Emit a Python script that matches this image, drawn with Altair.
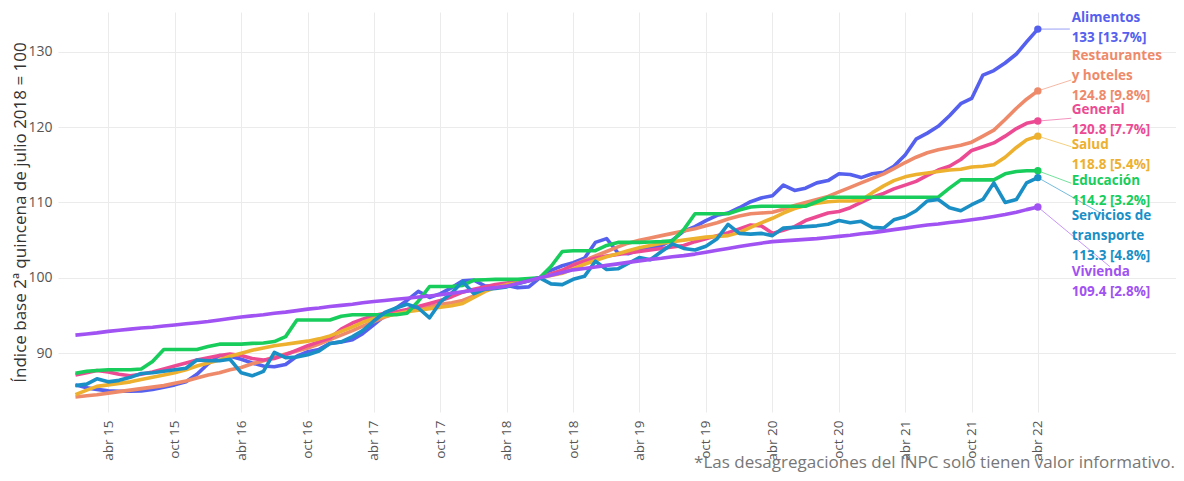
import altair as alt
import pandas as pd

# ---------------- data (monthly, Jan 2015 - Apr 2022) ----------------
alimentos = [85.8, 85.4, 85.2, 85.0, 84.95, 84.95, 85.0, 85.2, 85.5, 85.8, 86.2, 87.2, 88.6, 89.7, 89.6, 89.2, 88.7, 88.3, 88.2, 88.5, 89.6, 90.2, 90.5,
             91.3, 91.5, 91.8, 92.6, 93.8, 95.0, 96.0, 97.0, 98.2, 97.4, 97.9, 98.7, 99.6, 99.7, 98.9, 98.9, 99.0, 98.7, 98.8, 100.0, 101.0, 101.6,
             102.0, 102.6, 104.7, 105.2, 103.3, 103.2, 103.7, 104.0, 104.3, 105.0, 106.2, 106.8, 107.6, 108.3, 108.6, 109.3, 110.1, 110.6,
             110.9, 112.3, 111.6, 111.9, 112.6, 112.9, 113.8, 113.7, 113.3, 113.8, 114.0, 114.8, 116.3, 118.4, 119.2, 120.1, 121.5, 123.1, 123.8,
             126.9, 127.5, 128.5, 129.7, 131.3, 133.0]
restaurantes = [84.2, 84.35, 84.5, 84.7, 84.9, 85.1, 85.3, 85.5, 85.7, 86.0, 86.3, 86.7, 87.1, 87.4, 87.8, 88.1, 88.6, 89.0, 89.5, 89.9,
                90.3, 90.7, 91.2, 91.8, 92.4, 93.0, 93.6, 94.2, 94.8, 95.3, 95.7, 95.9, 96.2, 96.5, 96.7, 97.0, 97.6, 98.3, 98.8, 99.1,
                99.4, 99.7, 100.0, 100.5, 101.0, 101.7, 102.3, 102.9, 103.5, 104.1, 104.6, 105.0, 105.3, 105.6, 105.9, 106.2, 106.5, 106.9,
                107.3, 107.8, 108.2, 108.5, 108.6, 108.7, 109.1, 109.6, 110.0, 110.4, 110.8, 111.4, 112.0, 112.6, 113.2, 113.8, 114.5,
                115.3, 116.0, 116.6, 117.0, 117.3, 117.6, 118.0, 118.8, 119.6, 121.0, 122.5, 123.7, 124.8]
general = [87.1, 87.4, 87.7, 87.5, 87.2, 87.0, 87.2, 87.5, 87.9, 88.3, 88.7, 89.1, 89.4, 89.7, 89.9, 89.7, 89.3, 89.1, 89.3, 89.8, 90.4, 91.0, 91.5,
           92.0, 93.2, 94.0, 94.5, 95.0, 95.3, 95.5, 95.8, 96.2, 96.6, 97.0, 97.5, 98.1, 98.5, 98.8, 99.1, 99.3, 99.5, 99.7, 100.0, 100.5, 101.0,
           101.7, 102.2, 102.6, 102.9, 103.1, 103.3, 103.5, 103.7, 103.9, 104.1, 104.3, 104.8, 105.2, 105.6, 106.0, 106.5, 107.0, 106.9,
           105.9, 106.3, 106.8, 107.6, 108.1, 108.6, 108.8, 109.3, 110.0, 110.7, 111.2, 111.8, 112.3, 112.8, 113.6, 114.3, 114.8, 115.7,
           116.9, 117.4, 117.9, 118.8, 119.8, 120.5, 120.8]
salud = [84.5, 85.1, 85.6, 85.8, 86.0, 86.2, 86.5, 86.8, 87.1, 87.4, 87.8, 88.3, 88.7, 89.1, 89.6, 90.0, 90.4, 90.7, 91.0, 91.2, 91.4, 91.6, 91.9,
         92.3, 92.9, 93.5, 94.1, 94.6, 94.9, 95.2, 95.5, 95.7, 95.9, 96.1, 96.3, 96.6, 97.4, 98.2, 98.7, 99.1, 99.3, 99.6, 100.0, 100.3, 100.6,
         101.2, 101.8, 102.3, 102.8, 103.2, 103.6, 104.0, 104.3, 104.6, 104.8, 105.0, 105.2, 105.4, 105.5, 105.6, 106.0, 106.7, 107.3,
         107.9, 108.6, 109.2, 109.6, 109.9, 110.1, 110.2, 110.2, 110.3, 111.3, 112.2, 112.9, 113.4, 113.7, 113.9, 114.1, 114.3, 114.4,
         114.7, 114.8, 115.0, 116.0, 117.3, 118.3, 118.8]
educacion = [87.35, 87.6, 87.7, 87.8, 87.8, 87.8, 87.9, 88.9, 90.5, 90.5, 90.5, 90.5, 90.9, 91.2, 91.2, 91.2, 91.3, 91.35, 91.55, 92.2, 94.4, 94.4, 94.4,
             94.4, 94.9, 95.1, 95.1, 95.1, 95.1, 95.1, 95.3, 96.9, 98.85, 98.85, 98.85, 99.0, 99.7, 99.75, 99.8, 99.8, 99.8, 99.9, 100.0, 101.5, 103.5,
             103.6, 103.6, 103.6, 104.3, 104.7, 104.7, 104.7, 104.75, 104.8, 104.9, 106.4, 108.5, 108.5, 108.5, 108.5, 109.0, 109.4, 109.5, 109.5, 109.5,
             109.5, 109.5, 110.1, 110.7, 110.7, 110.7, 110.7, 110.7, 110.7, 110.7, 110.7, 110.7, 110.7, 110.7, 111.9, 113.0, 113.0, 113.0, 113.0, 113.8,
             114.1, 114.2, 114.2]
transporte = [85.7, 85.9, 86.6, 86.2, 86.4, 86.8, 87.3, 87.4, 87.6, 87.8, 88.0, 89.1, 89.0, 89.0, 89.2, 87.4, 87.0, 87.6, 90.1, 89.4, 89.5, 89.8, 90.3,
              91.3, 91.5, 92.2, 93.0, 94.3, 95.4, 96.0, 96.5, 96.0, 94.7, 96.8, 98.0, 99.5, 97.9, 98.5, 98.6, 98.8, 99.2, 99.6, 100.0, 99.2, 99.1,
              99.8, 100.2, 102.2, 101.1, 101.2, 101.9, 102.7, 102.4, 103.5, 104.5, 103.9, 103.7, 104.2, 105.2, 107.1, 105.9, 105.8, 105.9, 105.6, 106.6,
              106.7, 106.8, 106.9, 107.1, 107.6, 107.3, 107.5, 106.7, 106.6, 107.7, 108.1, 108.9, 110.2, 110.4, 109.3, 108.9, 109.7, 110.4, 112.6, 110.0,
              110.4, 112.6, 113.3]
vivienda = [92.4, 92.55, 92.7, 92.9, 93.05, 93.2, 93.35, 93.45, 93.6, 93.75, 93.9, 94.05, 94.2, 94.4, 94.6, 94.8, 94.95, 95.1, 95.3, 95.45,
            95.65, 95.85, 96.0, 96.2, 96.35, 96.5, 96.7, 96.85, 97.0, 97.15, 97.3, 97.45, 97.6, 97.75, 97.95, 98.15, 98.35, 98.55, 98.7, 98.9,
            99.25, 99.6, 100.0, 100.35, 100.7, 101.06, 101.25, 101.45, 101.65, 101.85, 102.05, 102.25, 102.45, 102.6, 102.8, 102.95, 103.15, 103.4,
            103.65, 103.9, 104.15, 104.4, 104.6, 104.8, 104.9, 105.0, 105.1, 105.2, 105.35, 105.5, 105.65, 105.85, 106.0, 106.2, 106.4, 106.6,
            106.8, 107.0, 107.15, 107.35, 107.5, 107.7, 107.9, 108.15, 108.4, 108.7, 109.05, 109.4]

series_names = ["Alimentos", "Restaurantes y hoteles", "General", "Salud", "Educación",
                "Servicios de transporte", "Vivienda"]
series_values = [alimentos, restaurantes, general, salud, educacion, transporte, vivienda]
series_colors = ["#5560EE", "#EE8A6A", "#EC4B94", "#EDB02F", "#18CD5C", "#1A8FC6", "#A052F2"]

# annotation texts
label_lines = [["Alimentos", "133 [13.7%]"],
               ["Restaurantes", "y hoteles", "124.8 [9.8%]"],
               ["General", "120.8 [7.7%]"],
               ["Salud", "118.8 [5.4%]"],
               ["Educación", "114.2 [3.2%]"],
               ["Servicios de", "transporte", "113.3 [4.8%]"],
               ["Vivienda", "109.4 [2.8%]"]]
label_center = [133.14, 126.78, 120.94, 116.30, 111.53, 105.56, 99.46]
label_date = "2022-07-03"
conn_end_date = ["2022-06-28", "2022-07-02", "2022-07-02", "2022-07-02", "2022-07-02", "2022-10-16", "2022-10-16"]
conn_end_val = [133.01, 126.25, 121.17, 117.40, 112.55, 107.9, 101.49]

caption = "*Las desagregaciones del INPC solo tienen valor informativo."
y_title = "Índice base 2ª quincena de julio 2018 = 100"
y_ticks = [90, 100, 110, 120, 130]

# ---------------- layout ----------------
PLOT_W, PLOT_H = 1118, 400
YMIN, YMAX = 82.2, 135.27
LINE_PX = 20.3
FONT = "Open Sans"

dates = [d.strftime("%Y-%m-%d") for d in pd.date_range("2015-01-01", "2022-04-01", freq="MS")]

rows = []
for name, vals in zip(series_names, series_values):
    for d, v in zip(dates, vals):
        rows.append({"fecha": d, "valor": v, "serie": name})
df = pd.DataFrame(rows)

last = pd.DataFrame({"fecha": [dates[-1]] * len(series_names),
                     "valor": [v[-1] for v in series_values],
                     "serie": series_names})

conn = last.copy()
conn["fecha2"] = conn_end_date
conn["valor2"] = conn_end_val

px_per_unit = PLOT_H / (YMAX - YMIN)
lab_rows = []
for name, lines, c in zip(series_names, label_lines, label_center):
    n = len(lines)
    for k, t in enumerate(lines):
        off = (k - (n - 1) / 2) * LINE_PX / px_per_unit
        lab_rows.append({"fecha": label_date, "valor": c - off, "serie": name, "texto": t})
labs = pd.DataFrame(lab_rows)

tick_dates = []
for yr in range(2015, 2023):
    tick_dates.append(alt.DateTime(year=yr, month=4, date=1, utc=True))
    if yr < 2022:
        tick_dates.append(alt.DateTime(year=yr, month=10, date=1, utc=True))

xscale = alt.Scale(domain=[alt.DateTime(year=2014, month=11, date=14, utc=True),
                           alt.DateTime(year=2023, month=4, date=16, utc=True)], nice=False)
yscale = alt.Scale(domain=[YMIN, YMAX], nice=False, zero=False)
cscale = alt.Scale(domain=series_names, range=series_colors)

xaxis = alt.Axis(values=tick_dates, title=None, labelAngle=270, grid=True, gridColor="#EBEBEB",
                 domain=False, ticks=False, labelPadding=8, labelFontSize=13.5, labelColor="#555",
                 labelFont=FONT,
                 labelExpr="(utcFormat(datum.value, '%m') == '04' ? 'abr ' : 'oct ') + utcFormat(datum.value, '%y')")
yaxis = alt.Axis(values=y_ticks, title=y_title, grid=True, gridColor="#EBEBEB", domain=False, ticks=False,
                 labelPadding=6, labelFontSize=14, labelColor="#555", labelFont=FONT,
                 titleFont=FONT, titleFontSize=17, titleFontWeight="normal", titleColor="#333",
                 titleX=-38, titleY=PLOT_H / 2, titleAngle=270, titleAlign="center", titleBaseline="middle")

x_enc = alt.X("fecha:T", scale=xscale, axis=xaxis)
y_enc = alt.Y("valor:Q", scale=yscale, axis=yaxis)
col_enc = alt.Color("serie:N", scale=cscale, legend=None)

line_layers = []
for name in series_names:
    line_layers.append(
        alt.Chart(df[df.serie == name]).mark_line(strokeWidth=3.6, strokeJoin="round")
        .encode(x=x_enc, y=y_enc, color=col_enc)
    )

rules = alt.Chart(conn).mark_rule(strokeWidth=1, opacity=0.6).encode(
    x="fecha:T", x2="fecha2:T", y="valor:Q", y2="valor2:Q", color=col_enc)

dots = alt.Chart(last).mark_circle(size=55, opacity=1).encode(x="fecha:T", y="valor:Q", color=col_enc)

texts = alt.Chart(labs).mark_text(align="left", baseline="middle", font=FONT, fontSize=13.5,
                                  fontWeight="bold").encode(
    x="fecha:T", y="valor:Q", text="texto:N", color=col_enc)

cap = alt.Chart(pd.DataFrame({"t": [caption]})).mark_text(
    align="right", baseline="middle", font=FONT, fontSize=17, color="#777").encode(
    x=alt.value(PLOT_W - 1), y=alt.value(451), text="t:N")

chart = alt.layer(*line_layers, rules, dots, texts, cap).properties(
    width=PLOT_W, height=PLOT_H, autosize="none",
    padding={"left": 50, "top": 4, "right": 0, "bottom": 60},
).configure_view(stroke=None)

chart.save("out.html", embed_options={"renderer": "svg", "actions": False})
